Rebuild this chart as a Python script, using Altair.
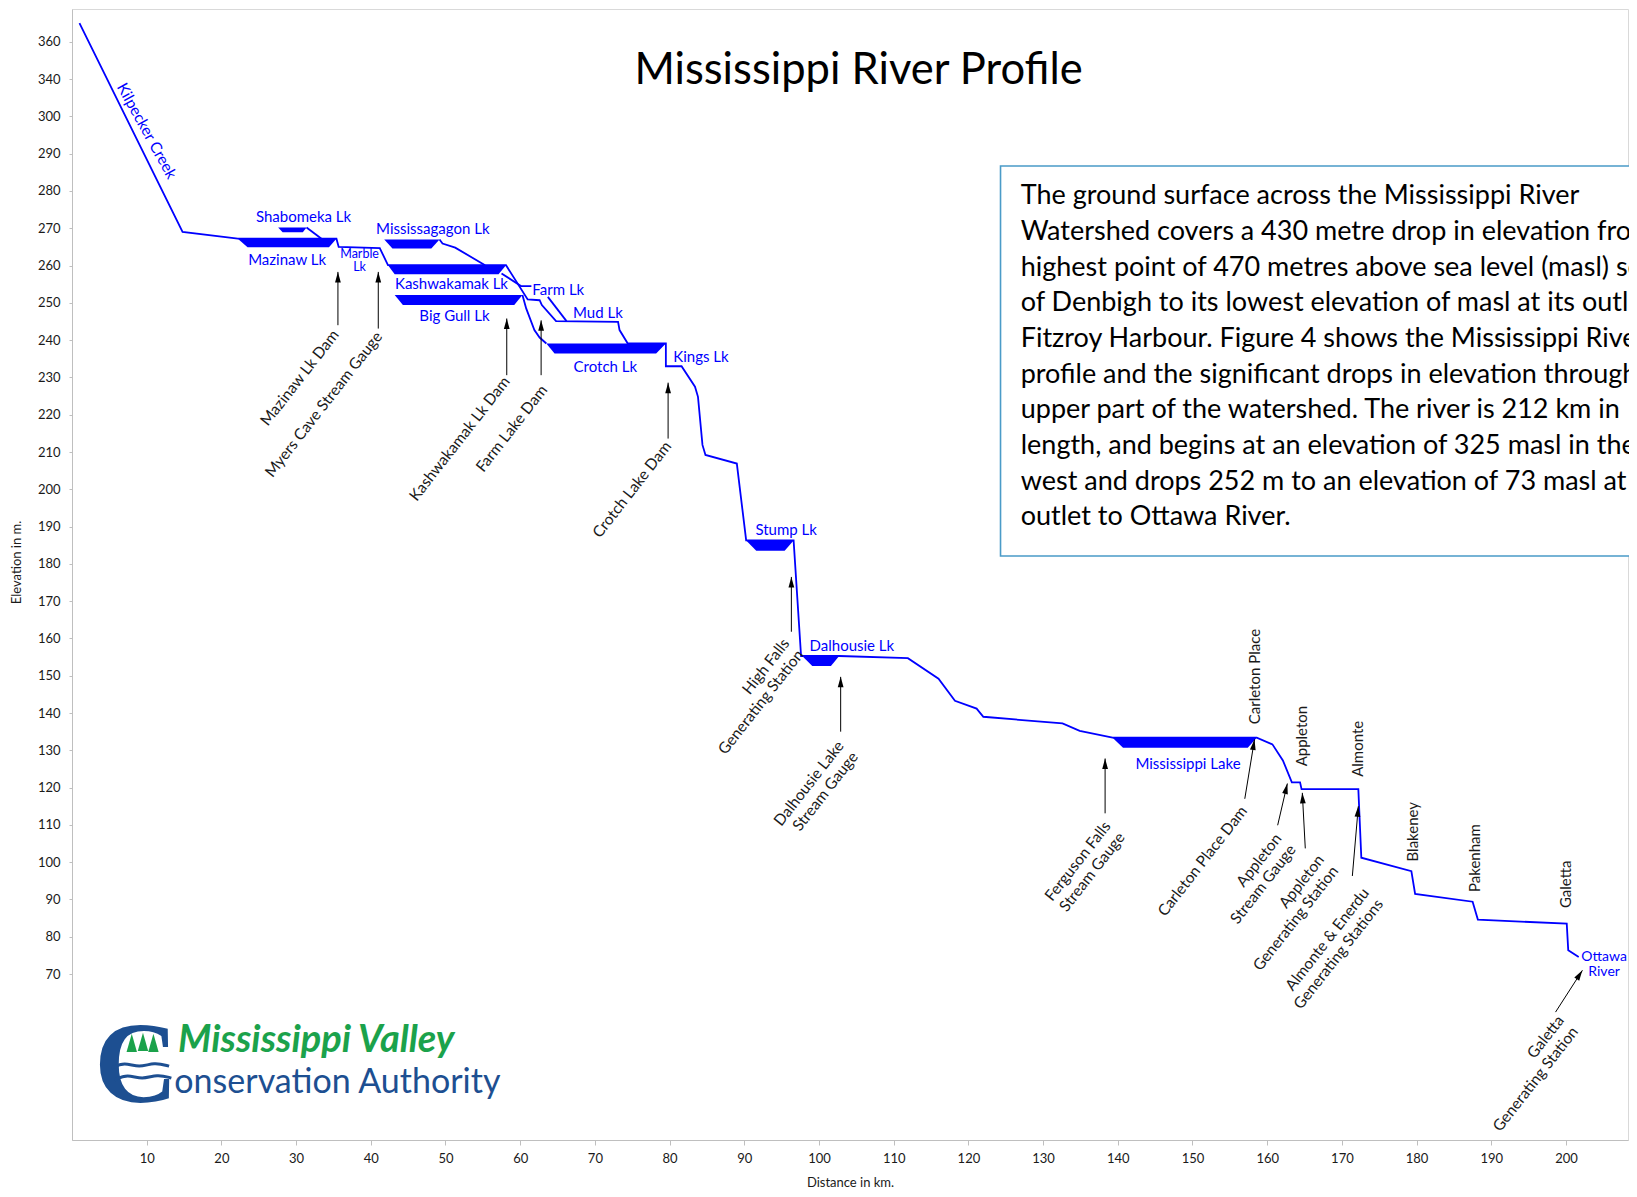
import math
import altair as alt
import pandas as pd

# ---------------- data ----------------
# main river profile
river_x = [1.0, 14.8, 22.2, 35.4, 35.7, 41.2, 42.3, 58.1, 61.0, 62.6, 62.9, 64.8, 73.1, 73.3,
           74.4, 79.5, 79.5, 81.6, 83.4, 83.8, 84.4, 84.8, 89.0, 90.25, 96.6, 97.6, 102.7,
           111.9, 116.0, 118.2, 121.1, 122.0, 132.6, 134.9, 139.3, 158.6, 160.7, 162.1, 163.3,
           164.4, 164.6, 172.2, 172.6, 179.3, 179.8, 187.5, 188.2, 200.1, 200.3, 201.7]
river_y = [325.0, 269.0, 267.2, 267.2, 265.0, 264.7, 260.1, 260.1, 250.9, 250.7, 249.4, 245.1,
           244.9, 242.7, 239.1, 239.1, 233.0, 233.0, 227.5, 224.8, 211.9, 209.2, 206.9, 186.3,
           186.3, 155.3, 155.3, 154.7, 149.2, 143.3, 141.2, 139.0, 137.2, 135.2, 133.4, 133.4,
           131.6, 127.3, 121.4, 121.4, 119.6, 119.6, 101.2, 97.6, 91.5, 89.4, 84.6, 83.5, 76.4, 74.6]
# side branches
shab_x = [31.4, 33.4]
shab_y = [270.2, 267.2]
missa_x = [49.2, 49.6, 51.3, 55.3]
missa_y = [267.0, 265.9, 264.8, 260.1]
farm_x = [57.5, 60.1, 61.5]
farm_y = [257.9, 254.5, 254.5]
farmmud_x = [63.7, 66.2]
farmmud_y = [251.6, 245.1]
biggull_x = [60.3, 60.8, 61.9, 62.6, 63.5]
biggull_y = [252.1, 248.5, 242.7, 240.7, 239.1]

# lakes (trapezoids)
lake_names = ["Shabomeka", "Mazinaw", "Mississagagon", "Kashwakamak", "Big Gull",
              "Crotch", "Stump", "Dalhousie", "Mississippi"]
lake_top = [270.2, 267.2, 267.0, 260.1, 252.1, 239.1, 186.3, 155.3, 133.4]
lake_bottom = [268.9, 264.9, 264.6, 257.7, 249.4, 236.4, 183.5, 152.6, 130.7]
lake_x_top_left = [27.6, 22.2, 41.8, 42.3, 43.2, 63.5, 90.25, 97.75, 139.3]
lake_x_bot_left = [28.2, 23.5, 42.9, 43.2, 44.3, 64.6, 91.6, 99.1, 140.7]
lake_x_bot_right = [30.9, 34.4, 48.1, 57.1, 59.2, 78.2, 95.4, 101.6, 157.4]
lake_x_top_right = [31.4, 35.4, 49.2, 58.1, 60.3, 79.5, 96.6, 102.7, 158.6]

# blue lake labels
lake_label_text = ["Shabomeka Lk", "Mazinaw Lk", "Mississagagon Lk", "Kashwakamak Lk",
                   "Big Gull Lk", "Farm Lk", "Mud Lk", "Crotch Lk", "Kings Lk", "Stump Lk",
                   "Dalhousie Lk", "Mississippi Lake"]
lake_label_x = [31.0, 28.8, 48.3, 50.8, 51.2, 65.1, 70.4, 71.4, 84.2, 95.6, 104.4, 149.4]
lake_label_y = [273.1, 261.5, 269.8, 255.0, 246.5, 253.4, 247.4, 232.9, 235.4, 189.1, 158.0, 126.2]

# arrows: (from x,y) -> (tip x,y)
arrow_x1 = [35.6, 41.0, 58.2, 62.8, 79.8, 96.3, 102.9, 138.3, 157.0, 161.4, 165.1, 171.4, 198.6]
arrow_y1 = [244.0, 243.1, 230.6, 230.6, 213.6, 161.8, 135.0, 113.1, 117.0, 109.9, 103.7, 96.3, 59.8]
arrow_x2 = [35.6, 41.0, 58.2, 62.8, 79.8, 96.3, 102.9, 138.3, 158.3, 162.7, 164.7, 172.2, 202.2]
arrow_y2 = [258.3, 258.3, 245.8, 245.3, 228.6, 176.5, 149.7, 127.8, 132.9, 121.1, 118.6, 115.0, 71.0]

# rotated station labels
station_text = ["Mazinaw Lk Dam", "Myers Cave Stream Gauge", "Kashwakamak Lk Dam",
                "Farm Lake Dam", "Crotch Lake Dam", "High Falls\nGenerating Station",
                "Dalhousie Lake\nStream Gauge", "Ferguson Falls\nStream Gauge",
                "Carleton Place Dam", "Appleton\nStream Gauge", "Appleton\nGenerating Station",
                "Almonte & Enerdu\nGenerating Stations", "Galetta\nGenerating Station"]
station_x = [35.3, 41.1, 58.2, 63.2, 79.8, 95.6, 102.9, 138.6, 156.9, 161.5, 167.2, 173.2, 199.3]
station_y = [242.2, 241.7, 229.7, 227.4, 212.3, 159.4, 132.0, 110.4, 114.5, 107.1, 101.4, 92.5, 58.3]

# vertical place names
place_text = ["Carleton Place", "Appleton", "Almonte", "Blakeney", "Pakenham", "Galetta"]
place_x = [158.3, 164.6, 172.1, 179.5, 187.8, 200.0]
place_y = [137.0, 125.7, 122.9, 100.2, 92.0, 87.7]

box_lines = [
    "The ground surface across the Mississippi River",
    "Watershed covers a 430 metre drop in elevation from the",
    "highest point of 470 metres above sea level (masl) south",
    "of Denbigh to its lowest elevation of  masl at its outlet at",
    "Fitzroy Harbour. Figure 4 shows the Mississippi River",
    "profile and the significant drops in elevation through the",
    "upper part of the watershed. The river is 212 km in",
    "length, and begins at an elevation of 325 masl in the",
    "west and drops 252 m to an elevation of 73 masl at its",
    "outlet to Ottawa River.",
]

# logo wave strokes
wave1_x = [5.3, 7.0, 9.0, 11.0, 13.0]
wave1_y = [44.8, 46.4, 44.8, 46.4, 45.3]
wave2_x = [5.7, 7.4, 9.4, 11.4, 13.3]
wave2_y = [41.6, 43.2, 41.6, 43.2, 42.1]

y_tick_values = list(range(70, 330, 10))
x_tick_values = list(range(10, 210, 10))

# ---------------- layout ----------------
W, H = 1556, 1131
X_DOMAIN = [0, 208.3]
Y_DOMAIN = [25.5, 328.8]
SX = W / (X_DOMAIN[1] - X_DOMAIN[0])
SY = H / (Y_DOMAIN[1] - Y_DOMAIN[0])

FONT = "Lato"
BLUE = "#0000FF"
TXT = "#1a1a1a"

xsc = alt.Scale(domain=X_DOMAIN, nice=False, zero=False)
ysc = alt.Scale(domain=Y_DOMAIN, nice=False, zero=False)

x_axis = alt.Axis(values=x_tick_values, title="Distance in km.", grid=False,
                  domainColor="#BFBFBF", tickColor="#BFBFBF", tickSize=5,
                  labelFont=FONT, labelFontSize=13, labelColor=TXT, labelPadding=7,
                  titleFont=FONT, titleFontSize=13, titleFontWeight="normal", titleColor=TXT,
                  titleY=42, titleBaseline="middle")
y_axis = alt.Axis(values=y_tick_values, title="Elevation in m.", grid=False,
                  domainColor="#BFBFBF", tickColor="#BFBFBF", tickSize=3,
                  labelFont=FONT, labelFontSize=13, labelColor=TXT, labelPadding=9,
                  labelExpr="datum.value == 320 ? '360' : (datum.value == 310 ? '340' : datum.label)",
                  titleFont=FONT, titleFontSize=13, titleFontWeight="normal", titleColor=TXT,
                  titleX=-56, titleY=553, titleBaseline="middle")


def ex(field="x"):
    return alt.X(f"{field}:Q", scale=xsc, axis=x_axis)


def ey(field="y"):
    return alt.Y(f"{field}:Q", scale=ysc, axis=y_axis, stack=None)


# river segments
rows = []
for name, sx_, sy_ in [("main", river_x, river_y), ("shab", shab_x, shab_y),
                       ("missa", missa_x, missa_y), ("farm", farm_x, farm_y),
                       ("farmmud", farmmud_x, farmmud_y), ("biggull", biggull_x, biggull_y)]:
    for i, (a, b) in enumerate(zip(sx_, sy_)):
        rows.append({"seg": name, "i": i, "x": a, "y": b})
river_df = pd.DataFrame(rows)

river = alt.Chart(river_df).mark_line(color=BLUE, strokeWidth=1.8).encode(
    x=ex(), y=ey(), detail="seg:N", order="i:Q")

# lakes
lrows = []
for n, t, b, a1, a2, a3, a4 in zip(lake_names, lake_top, lake_bottom, lake_x_top_left,
                                    lake_x_bot_left, lake_x_bot_right, lake_x_top_right):
    for xx, yy2 in [(a1, t), (a2, b), (a3, b), (a4, t)]:
        lrows.append({"lake": n, "x": xx, "y": t, "y2": yy2})
lake_df = pd.DataFrame(lrows)
lakes = alt.Chart(lake_df).mark_area(color=BLUE, opacity=1, line=False).encode(
    x=ex(), y=ey(), y2="y2:Q", detail="lake:N")

lake_lbl = alt.Chart(pd.DataFrame({"t": lake_label_text, "x": lake_label_x, "y": lake_label_y})
                     ).mark_text(color=BLUE, font=FONT, fontSize=15, align="center",
                                 baseline="middle").encode(x=ex(), y=ey(), text="t:N")

marble = alt.Chart(pd.DataFrame({"t": ["Marble\nLk"], "x": [38.5], "y": [263.2]})).mark_text(
    color=BLUE, font=FONT, fontSize=12.5, align="center", baseline="middle", lineBreak="\n",
    lineHeight=13.5).encode(x=ex(), y=ey(), text="t:N")

ottawa = alt.Chart(pd.DataFrame({"t": ["Ottawa\nRiver"], "x": [205.1], "y": [74.5]})).mark_text(
    color=BLUE, font=FONT, fontSize=14, align="center", baseline="middle", lineBreak="\n",
    lineHeight=15).encode(x=ex(), y=ey(), text="t:N")

kilpecker = alt.Chart(pd.DataFrame({"t": ["Kilpecker Creek"], "x": [10.0], "y": [296.1]})).mark_text(
    color=BLUE, font=FONT, fontSize=15.5, align="center", baseline="middle", angle=61).encode(
    x=ex(), y=ey(), text="t:N")

# arrows
adf = pd.DataFrame({"x": arrow_x1, "y": arrow_y1, "x2": arrow_x2, "y2": arrow_y2})
adf["ang"] = [math.degrees(math.atan2((b - a) * SX, (d - c) * SY)) % 360
              for a, b, c, d in zip(arrow_x1, arrow_x2, arrow_y1, arrow_y2)]
arrow_lines = alt.Chart(adf).mark_rule(color="black", strokeWidth=1).encode(
    x=ex(), y=ey(), x2="x2:Q", y2="y2:Q")
arrow_heads = alt.Chart(adf).mark_point(shape="M0,0L-0.55,2L0.55,2Z", filled=True, color="black",
                                        opacity=1, size=110, strokeWidth=0).encode(
    x=ex("x2"), y=ey("y2"), angle=alt.Angle("ang:Q", scale=None))

stations = alt.Chart(pd.DataFrame({"t": station_text, "x": station_x, "y": station_y})).mark_text(
    color=TXT, font=FONT, fontSize=15.5, align="right", baseline="middle", angle=308,
    lineBreak="\n", lineHeight=18).encode(x=ex(), y=ey(), text="t:N")

places = alt.Chart(pd.DataFrame({"t": place_text, "x": place_x, "y": place_y})).mark_text(
    color=TXT, font=FONT, fontSize=15, align="left", baseline="middle", angle=270).encode(
    x=ex(), y=ey(), text="t:N")

title = alt.Chart(pd.DataFrame({"t": ["Mississippi River Profile"], "x": [105.3], "y": [312.2]})).mark_text(
    color="#000000", font=FONT, fontSize=43.5, align="center", baseline="middle").encode(
    x=ex(), y=ey(), text="t:N")

box = alt.Chart(pd.DataFrame({"x": [124.3], "x2": [230.0], "y": [286.7], "y2": [182.1]})).mark_rect(
    fill="white", stroke="#4A9BC8", strokeWidth=1.6).encode(x=ex(), x2="x2:Q", y=ey(), y2="y2:Q")
box_text = alt.Chart(pd.DataFrame({"t": ["\n".join(box_lines)], "x": [127.0], "y": [278.6]})).mark_text(
    color="#000000", font=FONT, fontSize=27, align="left", baseline="middle", lineBreak="\n",
    lineHeight=35.7).encode(x=ex(), y=ey(), text="t:N")

# logo
logo_c = alt.Chart(pd.DataFrame({"t": ["C"], "x": [8.6], "y": [35.7]})).mark_text(
    color="#1D4F91", font="Liberation Serif", fontWeight="bold", fontSize=116, align="center",
    baseline="alphabetic").encode(x=ex(), y=ey(), text="t:N")
wrows = []
for name, wx, wy in [("w1", wave1_x, wave1_y), ("w2", wave2_x, wave2_y)]:
    for i, (a, b) in enumerate(zip(wx, wy)):
        wrows.append({"w": name, "i": i, "x": a, "y": b})
logo_wave = alt.Chart(pd.DataFrame(wrows)).mark_line(
    color="#1D4F91", strokeWidth=3, interpolate="basis").encode(
    x=ex(), y=ey(), detail="w:N", order="i:Q")
logo_trees = alt.Chart(pd.DataFrame({"x": [8.0, 9.5, 10.9], "y": [51.0, 51.3, 51.0]})).mark_point(
    shape="M0,-1.7L-0.8,1.1L0.8,1.1Z", filled=True, color="#1BA24B", opacity=1, size=170,
    strokeWidth=0).encode(x=ex(), y=ey())
logo_green = alt.Chart(pd.DataFrame({"t": ["Mississippi Valley"], "x": [14.2], "y": [49.2]})).mark_text(
    color="#1BA24B", font=FONT, fontWeight="bold", fontStyle="italic", fontSize=38, align="left",
    baseline="alphabetic").encode(x=ex(), y=ey(), text="t:N")
logo_blue = alt.Chart(pd.DataFrame({"t": ["onservation Authority"], "x": [13.7], "y": [38.2]})).mark_text(
    color="#1D4F91", font=FONT, fontSize=34, align="left", baseline="alphabetic").encode(
    x=ex(), y=ey(), text="t:N")

chart = alt.layer(
    river, lakes, lake_lbl, marble, ottawa, kilpecker, arrow_lines, arrow_heads, stations,
    places, title, box, box_text, logo_c, logo_wave, logo_trees, logo_green, logo_blue,
).properties(
    width=W, height=H,
    autosize=alt.AutoSizeParams(type="none"),
    padding={"left": 64, "top": 1, "right": 1, "bottom": 49},
    background="white",
).configure_view(stroke="#D9D9D9", strokeWidth=1)

chart.save("out.html", embed_options={"renderer": "svg", "actions": False})
